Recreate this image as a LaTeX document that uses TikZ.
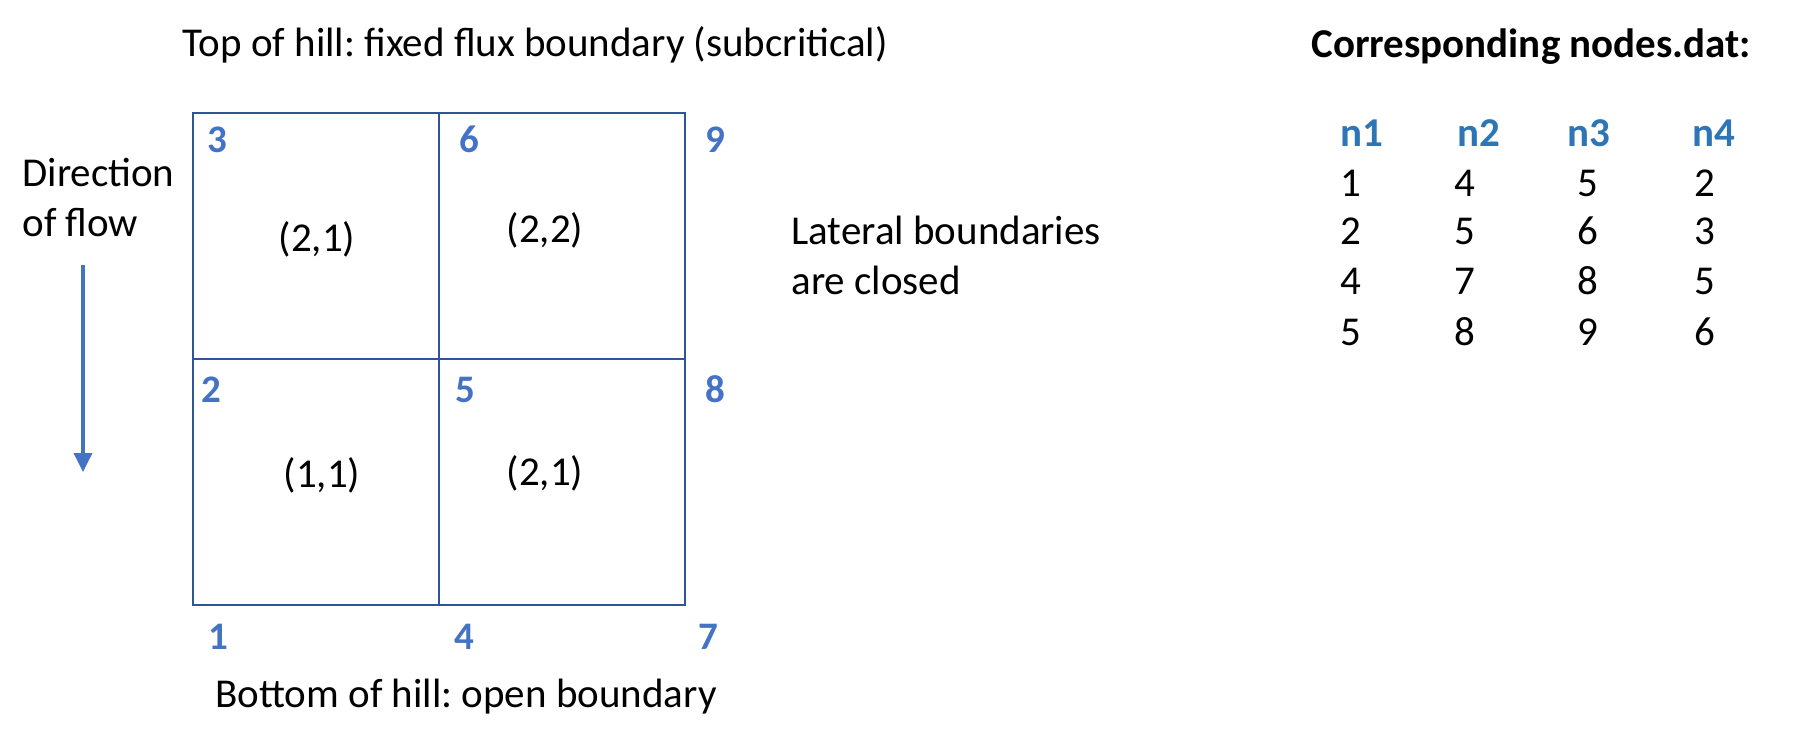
\documentclass[tikz,border=0pt]{standalone}
\usepackage{fontspec}
\setmainfont{Carlito}
\usetikzlibrary{arrows.meta}
\frenchspacing
\definecolor{gridblue}{HTML}{2F5597}
\definecolor{numblue}{HTML}{4472C4}
\definecolor{headblue}{HTML}{2E75B6}
\tikzset{
  txt/.style={inner sep=0pt, font=\fontsize{20.5}{25}\selectfont, text=black},
  gnum/.style={inner sep=0pt, anchor=base, font=\fontsize{19.5}{23}\selectfont\bfseries, text=numblue},
  hnum/.style={inner sep=0pt, anchor=base, font=\fontsize{20.5}{25}\selectfont\bfseries, text=headblue},
  tnum/.style={inner sep=0pt, anchor=base, font=\fontsize{20.5}{25}\selectfont, text=black},
  gline/.style={draw=gridblue, line width=1.1pt},
  flow/.style={draw=numblue, line width=1.8pt, -{Triangle[width=9pt,length=9.5pt]}}
}
\begin{document}
\begin{tikzpicture}[x=0.5pt,y=-0.5pt]
\useasboundingbox (0,0) rectangle (1810,754);
% grid
\coordinate (tl) at (193,113);
\coordinate (br) at (685,605);
\draw[gline] (tl) rectangle (br);
\draw[gline] (439,113) -- (439,605);
\draw[gline] (193,359) -- (685,359);
% titles
\node[txt, anchor=base west] (top) at (182,57) {Top of hill: fixed flux boundary (subcritical)};
\node[txt, anchor=base west] (bot) at (215,707) {Bottom of hill: open boundary};
\node[txt, anchor=base west] (dir1) at (22,187) {Direction};
\node[txt, anchor=base west] (dir2) at (22,237) {of flow};
\node[txt, anchor=base west] (lat1) at (791,245) {Lateral boundaries};
\node[txt, anchor=base west] (lat2) at (791,295) {are closed};
\node[txt, anchor=base west, font=\fontsize{20.5}{25}\selectfont\bfseries] (corr) at (1311,58) {Corresponding nodes.dat:};
% flow arrow
\coordinate (fa) at (83,265);
\coordinate (fb) at (83,472);
\draw[flow] (fa) -- (fb);
% grid node numbers
\node[gnum] (g3) at (217,153) {3};
\node[gnum] (g6) at (469,153) {6};
\node[gnum] (g9) at (715,153) {9};
\node[gnum] (g2) at (211,402) {2};
\node[gnum] (g5) at (465,402) {5};
\node[gnum] (g8) at (715,402) {8};
\node[gnum] (g1) at (218,649) {1};
\node[gnum] (g4) at (464,649) {4};
\node[gnum] (g7) at (708,649) {7};
% cell labels
\node[tnum] (c21a) at (317,252) {(2,1)};
\node[tnum] (c22) at (545,243) {(2,2)};
\node[tnum] (c11) at (322,487) {(1,1)};
\node[tnum] (c21b) at (545,485) {(2,1)};
% table headers
\node[hnum] (h1) at (1362,147) {n1};
\node[hnum] (h2) at (1479,147) {n2};
\node[hnum] (h3) at (1589,147) {n3};
\node[hnum] (h4) at (1714,147) {n4};
% table rows
\node[tnum] (r11) at (1351,197) {1};
\node[tnum] (r12) at (1465,197) {4};
\node[tnum] (r13) at (1588,197) {5};
\node[tnum] (r14) at (1705,197) {2};
\node[tnum] (r21) at (1351,245) {2};
\node[tnum] (r22) at (1465,245) {5};
\node[tnum] (r23) at (1588,245) {6};
\node[tnum] (r24) at (1705,245) {3};
\node[tnum] (r31) at (1351,295) {4};
\node[tnum] (r32) at (1465,295) {7};
\node[tnum] (r33) at (1588,295) {8};
\node[tnum] (r34) at (1705,295) {5};
\node[tnum] (r41) at (1351,345) {5};
\node[tnum] (r42) at (1465,345) {8};
\node[tnum] (r43) at (1588,345) {9};
\node[tnum] (r44) at (1705,345) {6};
\end{tikzpicture}
\end{document}
